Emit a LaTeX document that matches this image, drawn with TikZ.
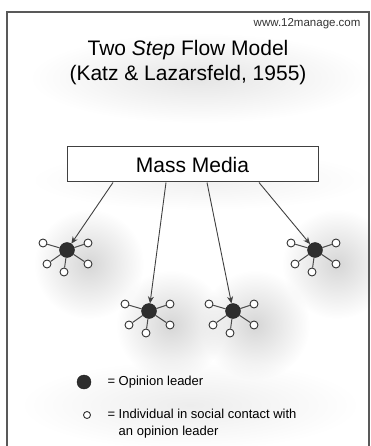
\documentclass[tikz,border=0pt]{standalone}
\usepackage{fontspec}
\setmainfont{Liberation Sans}
\usetikzlibrary{arrows.meta,fadings,positioning}

\tikzfading[name=soft blot,inner color=transparent!0,outer color=transparent!100]

\tikzset{
  leader/.style={circle,fill=black!82,draw=black!88,minimum size=15pt,inner sep=0pt},
  contact/.style={circle,fill=white,draw=black!80,line width=0.9pt,minimum size=8pt,inner sep=0pt},
  spoke/.style={draw=black!70,line width=1pt},
  flow/.style={draw=black!75,line width=0.9pt,-{Stealth[length=7pt,width=6pt]}},
  haze/.style={fill=black!16,path fading=soft blot},
}

\begin{document}
\begin{tikzpicture}[x=1pt,y=1pt]
\useasboundingbox (0,0) rectangle (371,-446);
% soft grey shadows behind the groups
\fill[haze,fill=black!10] (200,-78) ellipse (170 and 45);
\fill[haze,fill=black!6] (200,-180) ellipse (170 and 30);
\fill[haze,fill=black!7] (190,-405) ellipse (170 and 45);
\foreach \n/\x/\y in {1/67/-250,2/149/-311,3/233/-311,4/315/-250}{
  \fill[haze] (\x+22,\y-14) circle (55);
}
% frame
\draw[black!65,line width=1.5pt] (7,-446) -- (7,-12) -- (369,-12) -- (369,-446);

\node[anchor=east,font=\fontsize{11.5}{13}\selectfont,text=black!80] (site) at (364,-24) {www.12manage.com};
\node[align=center,font=\fontsize{21}{25}\selectfont] (title) at (188,-63)
  {Two \textit{Step} Flow Model\\(Katz \& Lazarsfeld, 1955)};

\node[draw=black!75,line width=1pt,fill=white,minimum width=251pt,minimum height=35pt,
  font=\fontsize{21}{25}\selectfont] (media) at (192.5,-164.5) {Mass Media};

% opinion leaders and their contacts
\foreach \n/\x/\y in {1/67/-250,2/149/-311,3/233/-311,4/315/-250}{
  \node[leader] (l\n) at (\x,\y) {};
  \foreach \s/\dx/\dy in {a/-24/7,b/21/7,c/-20/-14,d/21/-14,e/-3/-22}{
    \node[contact] (l\n\s) at (\x+\dx,\y+\dy) {};
    \draw[spoke] (l\n) -- (l\n\s);
  }
}

\draw[flow] ([xshift=-79.5pt]media.south) -- (l1);
\draw[flow] ([xshift=-26.5pt]media.south) -- (l2);
\draw[flow] ([xshift=14.5pt]media.south) -- (l3);
\draw[flow] ([xshift=66.5pt]media.south) -- (l4);

% key
\node[leader,minimum size=14pt] (key1) at (84,-382) {};
\node[anchor=west,font=\fontsize{13}{17}\selectfont] (key1txt) at (104,-382) {= Opinion leader};
\node[contact,minimum size=7pt] (key2) at (87,-415) {};
\node[anchor=west,align=left,font=\fontsize{13}{17}\selectfont] (key2txt) at (104,-423.5)
  {= Individual in social contact with\\\hphantom{= }an opinion leader};
\end{tikzpicture}
\end{document}
